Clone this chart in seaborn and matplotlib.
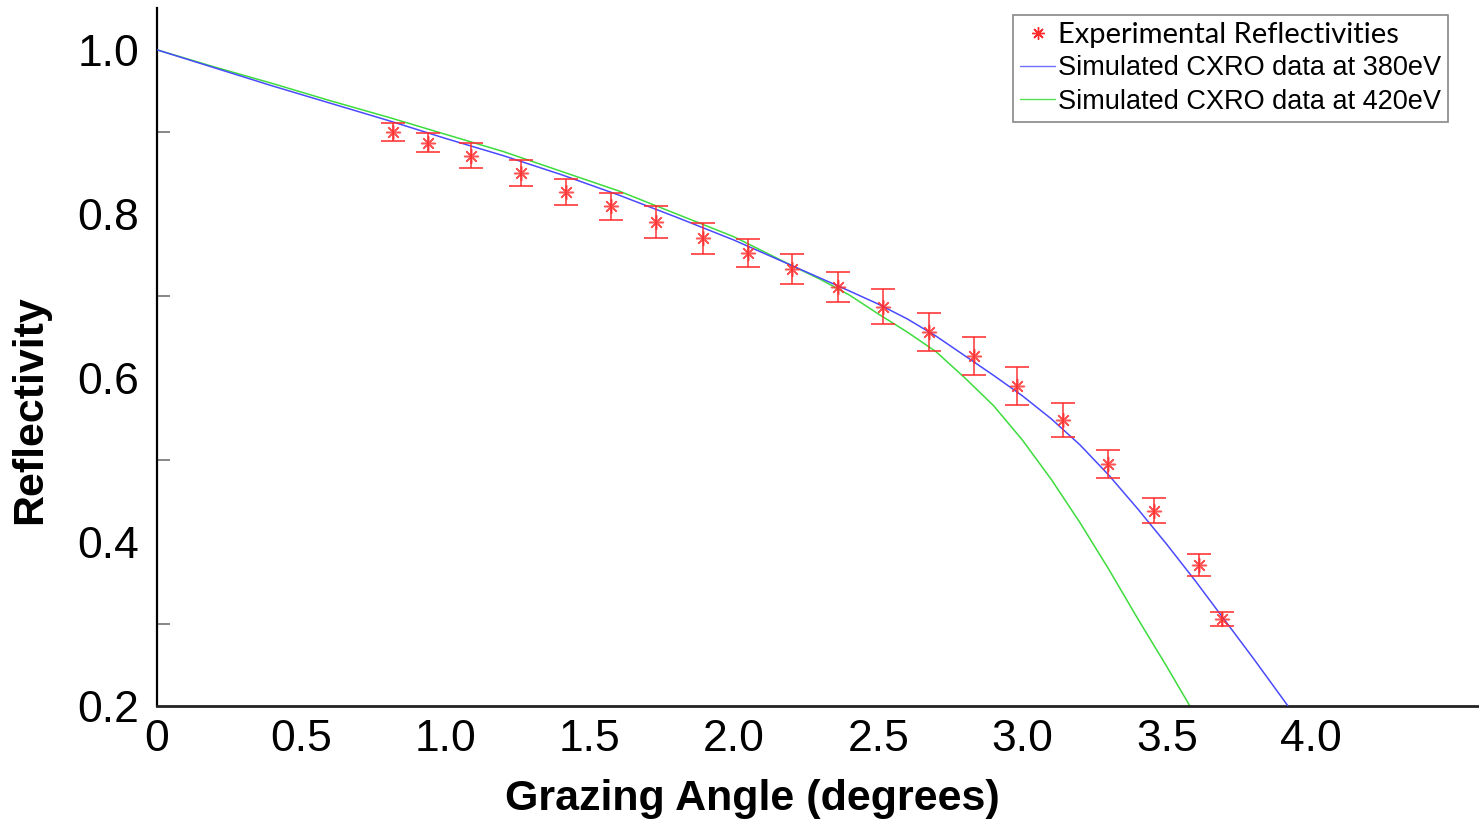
import numpy as np
import pandas as pd
import matplotlib
matplotlib.use('Agg')
import matplotlib.pyplot as plt
import seaborn as sns
from matplotlib.lines import Line2D
from matplotlib.ticker import FixedLocator

# Simulated CXRO curves
angle_380 = [0.0, 0.2, 0.4, 0.6, 0.8, 1.0, 1.2, 1.4, 1.6, 1.8, 2.0, 2.2, 2.4, 2.5,
             2.6, 2.7, 2.8, 2.9, 3.0, 3.1, 3.2, 3.3, 3.4, 3.5, 3.6, 3.7, 3.8, 3.92]
refl_380 = [1.000, 0.978, 0.956, 0.935, 0.914, 0.892, 0.871, 0.848, 0.823, 0.796,
            0.768, 0.737, 0.706, 0.690, 0.672, 0.651, 0.627, 0.603, 0.578, 0.550,
            0.518, 0.481, 0.440, 0.397, 0.352, 0.305, 0.258, 0.200]

angle_420 = [0.0, 0.2, 0.4, 0.6, 0.8, 1.0, 1.2, 1.4, 1.6, 1.8, 2.0, 2.2, 2.3, 2.4,
             2.5, 2.6, 2.7, 2.8, 2.9, 3.0, 3.1, 3.2, 3.3, 3.4, 3.5, 3.58]
refl_420 = [1.000, 0.979, 0.959, 0.938, 0.918, 0.897, 0.876, 0.852, 0.828, 0.800,
            0.772, 0.737, 0.720, 0.701, 0.678, 0.656, 0.632, 0.600, 0.566, 0.524,
            0.476, 0.423, 0.366, 0.306, 0.248, 0.200]

# Experimental reflectivities with error bars
exp_angle = [0.818, 0.939, 1.088, 1.262, 1.418, 1.574, 1.730, 1.893, 2.049, 2.201,
             2.360, 2.516, 2.676, 2.832, 2.981, 3.140, 3.296, 3.456, 3.612, 3.691]
exp_refl = [0.900, 0.887, 0.871, 0.850, 0.827, 0.809, 0.790, 0.770, 0.752, 0.733,
            0.711, 0.687, 0.656, 0.627, 0.590, 0.549, 0.495, 0.438, 0.372, 0.306]
exp_err = [0.011, 0.012, 0.015, 0.016, 0.016, 0.017, 0.019, 0.019, 0.017, 0.018,
           0.018, 0.021, 0.023, 0.023, 0.023, 0.021, 0.017, 0.015, 0.013, 0.009]

x_ticks = [0, 0.5, 1.0, 1.5, 2.0, 2.5, 3.0, 3.5, 4.0, 4.5]
x_tick_labels = ['0', '0.5', '1.0', '1.5', '2.0', '2.5', '3.0', '3.5', '4.0', '']
y_major = [0.2, 0.4, 0.6, 0.8, 1.0]
y_minor = [0.3, 0.5, 0.7, 0.9]
y_tick_labels = ['0.2', '0.4', '0.6', '0.8', '1.0']

legend_labels = ['Experimental Reflectivities',
                 'Simulated CXRO data at 380eV',
                 'Simulated CXRO data at 420eV']

sns.set_style('white')
plt.rcParams['font.family'] = ['Liberation Sans', 'DejaVu Sans']

W, H = 1479, 822
fig = plt.figure(figsize=(W / 100, H / 100), dpi=100)
ax = fig.add_axes([157 / W, 116 / H, 1322 / W, 698 / H])

blue = '#4a4aff'
green = '#3ddc3d'
red = '#ff2a2a'

df420 = pd.DataFrame({'angle': angle_420, 'refl': refl_420})
df380 = pd.DataFrame({'angle': angle_380, 'refl': refl_380})
sns.lineplot(data=df420, x='angle', y='refl', ax=ax, color=green, lw=1.1,
             sort=False, estimator=None, zorder=2)
sns.lineplot(data=df380, x='angle', y='refl', ax=ax, color=blue, lw=1.1,
             sort=False, estimator=None, zorder=3)

ax.errorbar(exp_angle, exp_refl, yerr=exp_err, fmt='none', ecolor=red,
            elinewidth=1.3, capsize=8.5, capthick=1.4, alpha=0.8, zorder=4)
dfexp = pd.DataFrame({'angle': exp_angle, 'refl': exp_refl})
sns.scatterplot(data=dfexp, x='angle', y='refl', ax=ax, marker=(8, 2, 0),
                s=100, color=red, linewidth=1.1, alpha=0.8, zorder=5)

ax.set_xlim(0, 4.582)
ax.set_ylim(0.2, 1.051)

ax.xaxis.set_major_locator(FixedLocator(x_ticks))
ax.set_xticklabels(x_tick_labels)
ax.yaxis.set_major_locator(FixedLocator(y_major))
ax.set_yticklabels(y_tick_labels)
ax.yaxis.set_minor_locator(FixedLocator(y_minor))

ax.tick_params(axis='both', which='both', direction='in', length=9, width=1.1,
               color='#666666')
ax.tick_params(axis='x', which='major', labelsize=32, pad=9, labelcolor='black')
ax.tick_params(axis='y', which='major', labelsize=32, pad=13, labelcolor='black')
ax.tick_params(axis='y', which='minor', left=True)

for side in ['top', 'right']:
    ax.spines[side].set_visible(False)
ax.spines['left'].set_color('black')
ax.spines['left'].set_linewidth(1.6)
ax.spines['bottom'].set_color('#222222')
ax.spines['bottom'].set_linewidth(2.0)

ax.set_xlabel('Grazing Angle (degrees)', fontsize=31, fontweight='bold', color='black')
ax.set_ylabel('Reflectivity', fontsize=31, fontweight='bold', color='black')
ax.xaxis.set_label_coords((752 - 157) / 1322, -0.104)
ax.yaxis.set_label_coords((50 - 157) / 1322, (706 - 410) / 698)

handles = [
    Line2D([], [], ls='none', marker=(8, 2, 0), color=red, markersize=9, mew=1.0),
    Line2D([], [], color='#7070ff', lw=1.0),
    Line2D([], [], color='#55e055', lw=1.0),
]
leg = ax.legend(handles, legend_labels, loc='upper right',
                bbox_to_anchor=((1448 - 157) / 1322, (706 - 15) / 698),
                borderaxespad=0, fontsize=19.5, handlelength=1.3,
                handletextpad=0.1, labelspacing=0.28, borderpad=0.25,
                frameon=True, fancybox=False, framealpha=1,
                edgecolor='#888888')
leg.get_frame().set_linewidth(1.2)
for t in leg.get_texts():
    t.set_color('black')
leg.get_texts()[0].set_family(['Lato', 'DejaVu Sans'])
leg.get_texts()[0].set_fontsize(21)

fig.savefig('out.png', dpi=100)
